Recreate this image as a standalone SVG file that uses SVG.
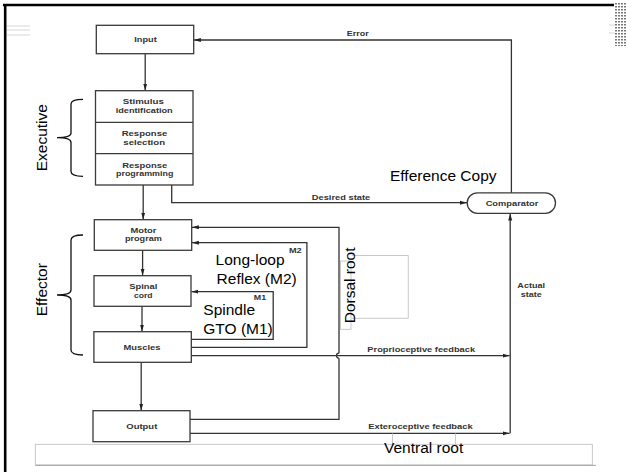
<svg xmlns="http://www.w3.org/2000/svg" width="629" height="472" viewBox="0 0 629 472">
<style>
.box{fill:#fff;stroke:#3a3a3a;stroke-width:1.3}
.sm{font-family:"Liberation Sans",Arial,sans-serif;font-weight:bold;font-size:7px;fill:#333;text-anchor:middle}
.big{font-family:"Liberation Sans",Arial,sans-serif;font-size:15.5px;fill:#000}
.conn{fill:none;stroke:#333;stroke-width:1.3}
.gray{fill:none;stroke:#bbb;stroke-width:0.8}
.brace{fill:none;stroke:#111;stroke-width:1.3}
</style>
<defs>
<marker id="arr" markerUnits="userSpaceOnUse" markerWidth="7" markerHeight="6" refX="7" refY="3" orient="auto">
<path d="M0,1 L7,3 L0,5 z" fill="#222"/>
</marker>
<pattern id="dots" width="3" height="3" patternUnits="userSpaceOnUse">
<rect x="0" y="0" width="2" height="1.5" fill="#777"/>
</pattern>
</defs>
<rect width="629" height="472" fill="#fff"/>

<!-- frame -->
<g id="frame">
<line x1="3" y1="5" x2="614" y2="5" stroke="#000" stroke-width="2.6"/>
<line x1="5.2" y1="4" x2="5.2" y2="472" stroke="#000" stroke-width="2.6"/>
<rect x="615" y="3" width="12" height="43" fill="url(#dots)"/>
<path d="M7,26 H30 M7,30 H30 M7,35 H30" stroke="#ccc" stroke-width="0.8"/>
<path d="M609,25 H615 M609,33 H615" stroke="#ccc" stroke-width="0.8"/>
</g>

<!-- connectors -->
<g id="connectors">
<path class="conn" d="M145.2,53.7 V90.5" marker-end="url(#arr)"/>
<path class="conn" d="M143.2,185 V219.5" marker-end="url(#arr)"/>
<path class="conn" d="M142.6,250.3 V275.5" marker-end="url(#arr)"/>
<path class="conn" d="M142,306.3 V331.5" marker-end="url(#arr)"/>
<path class="conn" d="M141.2,362.3 V410.5" marker-end="url(#arr)"/>
<path class="conn" d="M171.7,185 V202.7 H467" marker-end="url(#arr)"/>
<path class="conn" d="M511.4,193 V40 H193.9" marker-end="url(#arr)"/>
<path class="conn" d="M510.2,433.3 V213.6" marker-end="url(#arr)"/>
<path class="conn" d="M191.3,355.7 H509.6" marker-end="url(#arr)"/>
<path class="conn" d="M190,433.3 H509.6" marker-end="url(#arr)"/>
<path class="conn" d="M190,419.3 H339 V358.2 M339,353.2 V227.3 H191.9" marker-end="url(#arr)"/>
<path class="conn" d="M339,353.2 A2.5,2.5 0 0 0 339,358.2"/>
<path class="conn" d="M191.3,347.3 H306.9 V242.7 H191.9" marker-end="url(#arr)"/>
<path class="conn" d="M191.3,339.3 H273.2 V291.7 H191.3" marker-end="url(#arr)"/>
<text class="sm" x="357.7" y="35.8" textLength="22" lengthAdjust="spacingAndGlyphs">Error</text>
<text class="sm" x="341" y="199.8" textLength="58.3" lengthAdjust="spacingAndGlyphs">Desired state</text>
<text class="sm" x="531.2" y="288.3" textLength="27.7" lengthAdjust="spacingAndGlyphs">Actual</text>
<text class="sm" x="531.2" y="296.7" textLength="21" lengthAdjust="spacingAndGlyphs">state</text>
<text class="sm" x="421.2" y="351.5" textLength="107.7" lengthAdjust="spacingAndGlyphs">Proprioceptive feedback</text>
<text class="sm" x="420.5" y="429.2" textLength="104.3" lengthAdjust="spacingAndGlyphs">Exteroceptive feedback</text>
<text class="sm" x="295.3" y="253.2" textLength="12.7" lengthAdjust="spacingAndGlyphs">M2</text>
<text class="sm" x="260" y="300.2" textLength="12.3" lengthAdjust="spacingAndGlyphs">M1</text>
</g>

<g id="input">
<rect class="box" x="96.3" y="25.3" width="97.4" height="28.4"/>
<text class="sm" x="145.5" y="42" textLength="22.4" lengthAdjust="spacingAndGlyphs">Input</text>
</g>

<g id="executive-stack">
<rect class="box" x="95.5" y="90.7" width="97.5" height="94.3"/>
<line class="box" x1="95.5" y1="122.3" x2="193" y2="122.3"/>
<line class="box" x1="95.5" y1="153.7" x2="193" y2="153.7"/>
<text class="sm" x="143.3" y="104.2" textLength="41" lengthAdjust="spacingAndGlyphs">Stimulus</text>
<text class="sm" x="144.2" y="112.6" textLength="57" lengthAdjust="spacingAndGlyphs">identification</text>
<text class="sm" x="144.5" y="136.2" textLength="45.6" lengthAdjust="spacingAndGlyphs">Response</text>
<text class="sm" x="144.2" y="144.6" textLength="41.7" lengthAdjust="spacingAndGlyphs">selection</text>
<text class="sm" x="144.8" y="167.5" textLength="45" lengthAdjust="spacingAndGlyphs">Response</text>
<text class="sm" x="144.7" y="175.9" textLength="57.3" lengthAdjust="spacingAndGlyphs">programming</text>
</g>

<g id="motor-program">
<rect class="box" x="94.3" y="219.7" width="97.4" height="30.6"/>
<text class="sm" x="143.4" y="233" textLength="26" lengthAdjust="spacingAndGlyphs">Motor</text>
<text class="sm" x="143.4" y="241.4" textLength="37" lengthAdjust="spacingAndGlyphs">program</text>
</g>

<g id="spinal-cord">
<rect class="box" x="94" y="275.7" width="97" height="30.6"/>
<text class="sm" x="143.3" y="289.2" textLength="28" lengthAdjust="spacingAndGlyphs">Spinal</text>
<text class="sm" x="143.3" y="297.6" textLength="18.6" lengthAdjust="spacingAndGlyphs">cord</text>
</g>

<g id="muscles">
<rect class="box" x="93.9" y="331.7" width="97.4" height="30.6"/>
<text class="sm" x="142" y="349.5" textLength="37" lengthAdjust="spacingAndGlyphs">Muscles</text>
</g>

<g id="output">
<rect class="box" x="93" y="410.7" width="97" height="31"/>
<text class="sm" x="141.8" y="428.5" textLength="31" lengthAdjust="spacingAndGlyphs">Output</text>
</g>

<g id="comparator">
<rect class="box" x="467.2" y="192.8" width="88.3" height="20.5" rx="10.2"/>
<text class="sm" x="512" y="205.8" textLength="52.7" lengthAdjust="spacingAndGlyphs">Comparator</text>
</g>

<g id="executive-label">
<path class="brace" d="M83,99.3 Q71,99.3 71,104 V133 Q71,137.7 57,137.7 Q71,137.7 71,142.5 V171.5 Q71,176.3 83,176.3"/>
<text class="big" transform="translate(46.7,137.7) rotate(-90)" text-anchor="middle">Executive</text>
</g>

<g id="effector-label">
<path class="brace" d="M83,235 Q71,235 71,240 V290 Q71,295 57,295 Q71,295 71,300 V350 Q71,355 83,355"/>
<text class="big" transform="translate(46.7,289.7) rotate(-90)" text-anchor="middle">Effector</text>
</g>

<g id="annotations">
<text class="big" x="390" y="181">Efference Copy</text>
<text class="big" x="215.6" y="265">Long-loop</text>
<text class="big" x="216.6" y="283.5">Reflex (M2)</text>
<text class="big" x="203.3" y="315">Spindle</text>
<text class="big" x="203.3" y="334.3">GTO (M1)</text>
<rect class="gray" x="340.5" y="261" width="10.5" height="68.3"/>
<path class="gray" d="M351.7,255.5 H408.3 V318.3 H351.7"/>
<text class="big" transform="translate(354.5,323.3) rotate(-90)">Dorsal root</text>
<rect class="gray" x="35.3" y="444.3" width="557" height="20.7"/>
<path d="M35.3,465.3 H596" stroke="#999" stroke-width="0.9"/>
<path class="gray" d="M392.5,433.3 V444.3 M455.5,433.3 V444.3"/>
<text class="big" x="384" y="453.3">Ventral root</text>
</g>
</svg>
